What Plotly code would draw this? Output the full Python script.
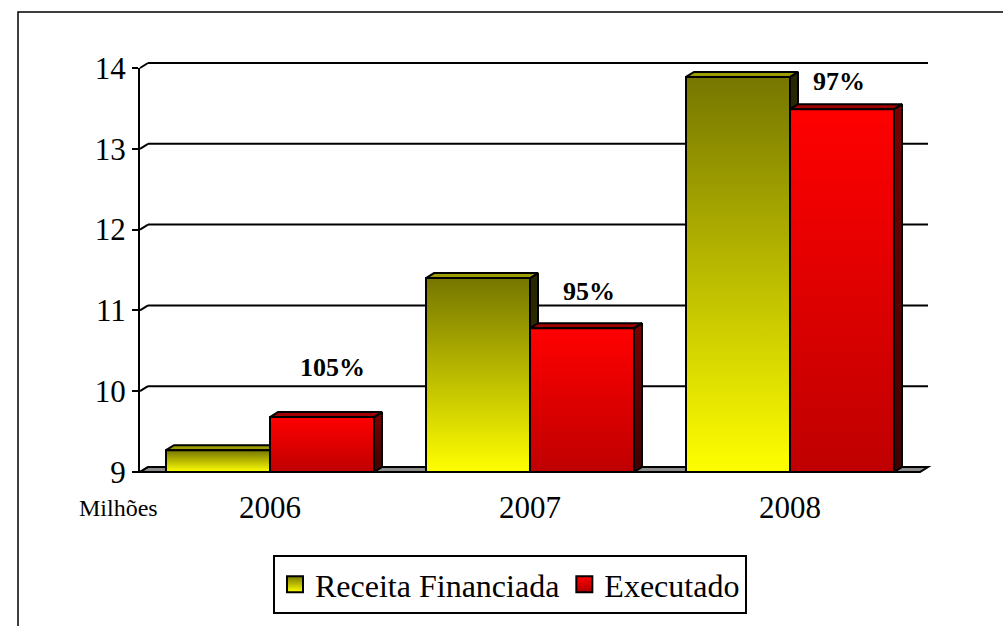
import plotly.graph_objects as go

years = ["2006", "2007", "2008"]
receita = [9.27, 11.40, 13.89]
executado = [9.68, 10.78, 13.49]
pct_labels = ["105%", "95%", "97%"]
y_ticks = [9, 10, 11, 12, 13, 14]
series_names = ["Receita Financiada", "Executado"]

FONT = "Liberation Serif, 'Times New Roman', 'DejaVu Serif', serif"
Y_MIN, Y_MAX = 9, 14
X_MIN, X_MAX = -0.5, 2.5
L, R, T, B = 140, 83, 68, 154
W, H = 1003, 626
PW = W - L - R
PH = H - T - B
DXP, DYP = 8, 5  # depth in pixels
DX = DXP * (X_MAX - X_MIN) / PW
DY = DYP * (Y_MAX - Y_MIN) / PH
BW = 0.4

styles = {
    "Receita Financiada": dict(front=[[0, "#ffff00"], [1, "#767600"]],
                               side=[[0, "#3a3a00"], [1, "#262600"]],
                               top="#9c9c00",
                               legend_top="#7a7a00", legend_bot="#ffff00"),
    "Executado": dict(front=[[0, "#bf0000"], [1, "#ff0000"]],
                      side=[[0, "#400000"], [1, "#7a0000"]],
                      top="#a00000",
                      legend_top="#ff0000", legend_bot="#b00000"),
}

fig = go.Figure()

def poly(xs, ys, fillcolor=None, grad=None):
    kw = dict(x=xs + [xs[0]], y=ys + [ys[0]], mode="lines", fill="toself",
              line=dict(color="black", width=2), showlegend=False, hoverinfo="skip")
    if grad is not None:
        kw["fillgradient"] = dict(type="vertical", colorscale=grad)
    else:
        kw["fillcolor"] = fillcolor
    fig.add_trace(go.Scatter(**kw))

for i in range(len(years)):
    for s, (name, vals) in enumerate(zip(series_names, [receita, executado])):
        v = vals[i]
        st = styles[name]
        x0 = i - BW + s * BW
        x1 = x0 + BW
        # side face
        poly([x1, x1 + DX, x1 + DX, x1], [Y_MIN, Y_MIN + DY, v + DY, v], grad=st["side"])
        # top face
        poly([x0, x0 + DX, x1 + DX, x1], [v, v + DY, v + DY, v], fillcolor=st["top"])
        # front face
        poly([x0, x1, x1, x0], [Y_MIN, Y_MIN, v, v], grad=st["front"])

# legend entries
for name in series_names:
    st = styles[name]
    fig.add_trace(go.Scatter(
        x=[None], y=[None], mode="markers", name=name,
        marker=dict(symbol="square", size=16, color=st["legend_top"],
                    gradient=dict(type="vertical", color=st["legend_bot"]),
                    line=dict(color="black", width=2)),
    ))

def fy(y):
    return (y - Y_MIN) / (Y_MAX - Y_MIN)

ddx = DXP / PW
ddy = DYP / PH
shapes = []
# floor
shapes.append(dict(type="path", xref="x domain", yref="y domain", layer="below",
                   path=f"M0,{fy(Y_MIN)} L1,{fy(Y_MIN)} L{1+ddx},{fy(Y_MIN)+ddy} L{ddx},{fy(Y_MIN)+ddy} Z",
                   fillcolor="#8c8c8c", line=dict(color="black", width=2)))
for t in y_ticks[1:]:
    shapes.append(dict(type="line", xref="x domain", yref="y domain", layer="below",
                       x0=ddx, x1=1 + ddx, y0=fy(t) + ddy, y1=fy(t) + ddy,
                       line=dict(color="black", width=2)))
for t in y_ticks:
    shapes.append(dict(type="line", xref="x domain", yref="y domain", layer="below",
                       x0=0, x1=ddx, y0=fy(t), y1=fy(t) + ddy,
                       line=dict(color="black", width=2)))
# outer border
shapes.append(dict(type="rect", xref="paper", yref="paper",
                   x0=(18 - L) / PW, x1=1.3, y0=-0.6, y1=(H - B - 12) / PH,
                   line=dict(color="black", width=1.5), fillcolor="rgba(0,0,0,0)"))

label_xshift = [10, 7, -3]
label_yshift = [50, 37, 28]
annotations = []
for i, lab in enumerate(pct_labels):
    annotations.append(dict(x=i + BW / 2, y=executado[i], xref="x", yref="y",
                            text=f"<b>{lab}</b>", showarrow=False,
                            xshift=label_xshift[i], yshift=label_yshift[i],
                            font=dict(family=FONT, size=26, color="black")))
annotations.append(dict(x=(118 - L) / PW, y=(H - B - 508) / PH, xref="paper", yref="paper",
                        text="Milhões", showarrow=False, xanchor="center", yanchor="middle",
                        font=dict(family=FONT, size=24, color="black")))

fig.update_layout(
    width=W, height=H,
    margin=dict(l=L, r=R, t=T, b=B),
    paper_bgcolor="white", plot_bgcolor="rgba(0,0,0,0)",
    shapes=shapes, annotations=annotations,
    font=dict(family=FONT, color="black"),
    showlegend=True,
    legend=dict(orientation="h", x=(510 - L) / PW, xanchor="center",
                y=(H - B - 555) / PH, yanchor="top",
                bordercolor="black", borderwidth=2, bgcolor="white",
                font=dict(family=FONT, size=32, color="black"),
                itemsizing="trace", tracegroupgap=0),
    xaxis=dict(range=[X_MIN, X_MAX], tickvals=list(range(len(years))), ticktext=years,
               showgrid=False, zeroline=False, showline=False, ticks="",
               ticklabelstandoff=14,
               tickfont=dict(family=FONT, size=31, color="black"), fixedrange=True),
    yaxis=dict(range=[Y_MIN, Y_MAX], tickvals=y_ticks, showgrid=False, zeroline=False,
               showline=True, linecolor="black", linewidth=2,
               ticks="outside", ticklen=6, tickwidth=2, tickcolor="black",
               tickfont=dict(family=FONT, size=31, color="black"), fixedrange=True),
)

fig.write_html("out.html", config={"displayModeBar": False},
               post_script="document.body.style.margin='0';document.body.style.overflow='hidden';")
